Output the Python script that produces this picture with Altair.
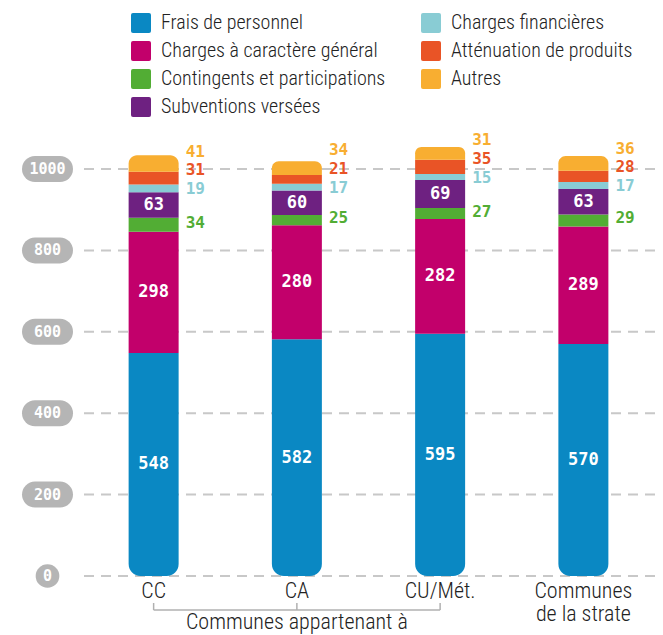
import altair as alt
import pandas as pd

categories = ["CC", "CA", "CU/Mét.", "Communes\nde la strate"]
series = ["Frais de personnel", "Charges à caractère général",
          "Contingents et participations", "Subventions versées",
          "Charges financières", "Atténuation de produits", "Autres"]
colors = ["#0a88c3", "#c2006b", "#52ad34", "#6e2181", "#89ccd4", "#e95426", "#f8ae31"]

frais = [548, 582, 595, 570]
charges_gen = [298, 280, 282, 289]
contingents = [34, 25, 27, 29]
subventions = [63, 60, 69, 63]
charges_fin = [19, 17, 15, 17]
attenuation = [31, 21, 35, 28]
autres = [41, 34, 31, 36]
y_ticks = [0, 200, 400, 600, 800, 1000]
group_label = "Communes appartenant à"
group_members = categories[:3]

values = [frais, charges_gen, contingents, subventions, charges_fin, attenuation, autres]
rows = []
for si, (s, vals) in enumerate(zip(series, values)):
    for c, v in zip(categories, vals):
        rows.append({"cat": c, "serie": s, "value": v, "order": si})
df = pd.DataFrame(rows)

FONT_TXT = "Roboto Condensed, Liberation Sans Narrow, sans-serif"
FONT_NUM = "DejaVu Sans Mono"
TXT_W = 300

xscale = alt.Scale(domain=categories, paddingInner=0, paddingOuter=0)
yscale = alt.Scale(domain=[0, 1000], nice=False)
cscale = alt.Scale(domain=series, range=colors)

x_axis = alt.Axis(title=None, labelExpr="split(datum.label, '\\n')", labelFont=FONT_TXT,
                  labelFontSize=22, labelFontWeight=TXT_W, labelColor="#222", ticks=False,
                  tickSize=0, domain=False, labelPadding=4, labelAngle=0,
                  labelLineHeight=23, grid=False)
X = alt.X("cat:N", scale=xscale, axis=x_axis)

rounded_square = ("M -0.8,-1 L 0.8,-1 Q 1,-1 1,-0.8 L 1,0.8 Q 1,1 0.8,1 "
                  "L -0.8,1 Q -1,1 -1,0.8 L -1,-0.8 Q -1,-1 -0.8,-1 Z")
legend = alt.Legend(orient="none", legendX=49, legendY=-156, columns=2, title=None,
                    symbolType=rounded_square, symbolSize=400, symbolStrokeWidth=0,
                    labelFont=FONT_TXT, labelFontSize=20, labelFontWeight=TXT_W,
                    labelColor="#222", labelLimit=0, rowPadding=8, columnPadding=35,
                    labelOffset=10, gridAlign="each")

base = alt.Chart(df).transform_stack(
    stack="value", groupby=["cat"], as_=["y0", "y1"], sort=[alt.SortField("order")]
).transform_calculate(mid="(datum.y0 + datum.y1) / 2")

enc = dict(
    x=X,
    y=alt.Y("y0:Q", scale=yscale, axis=None),
    y2="y1:Q",
    color=alt.Color("serie:N", scale=cscale, legend=legend),
)

bars_mid = base.transform_filter("datum.order > 0 && datum.order < 6").mark_bar(width=50).encode(**enc)
bars_bottom = base.transform_filter("datum.order == 0").mark_bar(
    width=50, cornerRadiusBottomLeft=12, cornerRadiusBottomRight=12).encode(**enc)
bars_top = base.transform_filter("datum.order == 6").mark_bar(
    width=50, cornerRadiusTopLeft=12, cornerRadiusTopRight=12).encode(**enc)

inside = base.transform_filter("datum.order == 0 || datum.order == 1 || datum.order == 3").mark_text(
    font=FONT_NUM, fontWeight="bold", fontSize=17, color="white", baseline="middle"
).encode(x=X, y=alt.Y("mid:Q", scale=yscale, axis=None), text="value:Q")

# outside labels: pushed upward so they do not collide
GAP = 45
lab_base = base.transform_calculate(
    m4="datum.order == 4 ? datum.mid : -1e9",
    m5="datum.order == 5 ? datum.mid : -1e9",
).transform_joinaggregate(
    f4="max(m4)", f5="max(m5)", groupby=["cat"]
).transform_calculate(
    l5=f"max(datum.f5, datum.f4 + {GAP})"
).transform_calculate(
    lab="datum.order == 4 ? datum.f4 : (datum.order == 5 ? datum.l5 : "
        f"(datum.order == 6 ? max(datum.mid, datum.l5 + {GAP}) : datum.mid))"
)

outside_layers = []
for idx, dy in [(2, -2), (4, 1), (5, 0), (6, 0)]:
    outside_layers.append(
        lab_base.transform_filter(f"datum.order == {idx}").mark_text(
            font=FONT_NUM, fontWeight="bold", fontSize=16, color=colors[idx],
            align="left", baseline="middle", dx=32, dy=dy
        ).encode(x=X, y=alt.Y("lab:Q", scale=yscale, axis=None), text="value:Q")
    )

ticks_df = pd.DataFrame({"v": y_ticks, "lab": [str(t) for t in y_ticks]})
grid = alt.Chart(ticks_df).mark_rule(
    strokeDash=[10, 7], color="#c8c8c8", strokeWidth=2
).encode(y=alt.Y("v:Q", scale=yscale, axis=None))

pill_col = "#b5b5b5"
pills = alt.Chart(ticks_df).transform_filter("datum.v > 0").mark_rule(
    strokeWidth=26, strokeCap="round", color=pill_col
).encode(y=alt.Y("v:Q", scale=yscale, axis=None), x=alt.value(-47), x2=alt.value(-22))
pill0 = alt.Chart(ticks_df).transform_filter("datum.v == 0").mark_circle(
    size=560, color=pill_col, opacity=1
).encode(y=alt.Y("v:Q", scale=yscale, axis=None), x=alt.value(-34.5))
pill_text = alt.Chart(ticks_df).mark_text(
    font=FONT_NUM, fontWeight="bold", fontSize=15, color="white", baseline="middle"
).encode(y=alt.Y("v:Q", scale=yscale, axis=None), x=alt.value(-34.5), text="lab:N")

grp_df = pd.DataFrame({"cat": group_members})
br_ticks = alt.Chart(grp_df).mark_rule(color="#b0b0b0", strokeWidth=1.5).encode(
    x=X, y=alt.value(434), y2=alt.value(441))
br_line = alt.Chart(grp_df).mark_line(color="#b0b0b0", strokeWidth=1.5).encode(
    x=X, y=alt.value(441))
br_text = alt.Chart(pd.DataFrame({"cat": [group_members[1]], "t": [group_label]})).mark_text(
    font=FONT_TXT, fontSize=22, fontWeight=TXT_W, color="#222", baseline="middle"
).encode(x=X, y=alt.value(453), text="t:N")

chart = alt.layer(
    grid, bars_bottom, bars_mid, bars_top, inside, *outside_layers,
    pills, pill0, pill_text, br_ticks, br_line, br_text
).properties(
    width=573, height=407,
    autosize=alt.AutoSizeParams(type="none"),
    padding={"left": 74, "top": 161, "right": 0, "bottom": 59},
).configure_view(stroke=None)

chart.save("out.html", embed_options={"renderer": "svg", "actions": False})
